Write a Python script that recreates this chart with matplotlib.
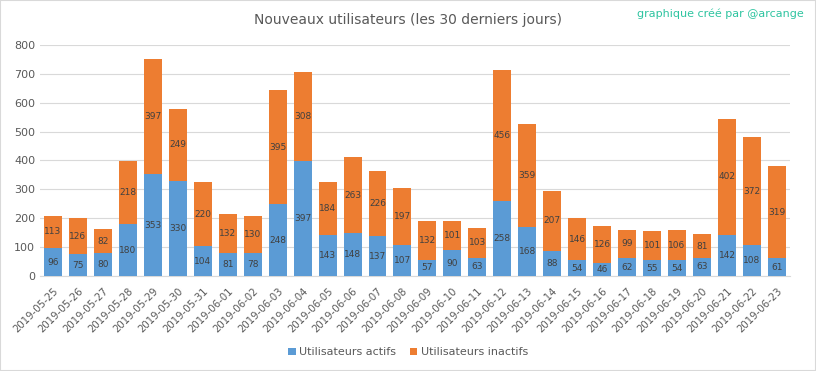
import matplotlib
matplotlib.use("Agg")
import matplotlib.pyplot as plt
import numpy as np

dates = ["2019-05-25", "2019-05-26", "2019-05-27", "2019-05-28", "2019-05-29",
         "2019-05-30", "2019-05-31", "2019-06-01", "2019-06-02", "2019-06-03",
         "2019-06-04", "2019-06-05", "2019-06-06", "2019-06-07", "2019-06-08",
         "2019-06-09", "2019-06-10", "2019-06-11", "2019-06-12", "2019-06-13",
         "2019-06-14", "2019-06-15", "2019-06-16", "2019-06-17", "2019-06-18",
         "2019-06-19", "2019-06-20", "2019-06-21", "2019-06-22", "2019-06-23"]
actifs = [96, 75, 80, 180, 353, 330, 104, 81, 78, 248,
          397, 143, 148, 137, 107, 57, 90, 63, 258, 168,
          88, 54, 46, 62, 55, 54, 63, 142, 108, 61]
inactifs = [113, 126, 82, 218, 397, 249, 220, 132, 130, 395,
            308, 184, 263, 226, 197, 132, 101, 103, 456, 359,
            207, 146, 126, 99, 101, 106, 81, 402, 372, 319]

blue = "#5B9BD5"
orange = "#ED7D31"
grey = "#595959"

fig = plt.figure(figsize=(8.16, 3.71), dpi=100)
ax = fig.add_axes([0.049, 0.256, 0.919, 0.623])

x = np.arange(len(dates))
b1 = ax.bar(x, actifs, width=0.72, color=blue, label="Utilisateurs actifs", zorder=3)
b2 = ax.bar(x, inactifs, width=0.72, bottom=actifs, color=orange,
            label="Utilisateurs inactifs", zorder=3)

for i in range(len(dates)):
    ax.text(x[i], actifs[i] / 2, str(actifs[i]), ha="center", va="center",
            fontsize=6.5, color="#404040", zorder=4)
    ax.text(x[i], actifs[i] + inactifs[i] / 2, str(inactifs[i]), ha="center",
            va="center", fontsize=6.5, color="#404040", zorder=4)

ax.set_xlim(-0.52, len(dates) - 0.48)
ax.set_ylim(0, 800)
ax.set_yticks(range(0, 801, 100))
ax.yaxis.grid(True, color="#d9d9d9", linewidth=0.8, zorder=0)
ax.set_xticks(x)
ax.set_xticklabels(dates, rotation=45, ha="right", rotation_mode="anchor")
ax.tick_params(axis="both", length=0, colors=grey, labelsize=8)
ax.tick_params(axis="x", pad=7, labelsize=7.3)
for s in ["top", "right", "left"]:
    ax.spines[s].set_visible(False)
ax.spines["bottom"].set_color("#d9d9d9")

fig.text(0.5, 0.946, "Nouveaux utilisateurs (les 30 derniers jours)", ha="center",
         va="center", fontsize=10, color=grey)
fig.text(0.985, 0.962, "graphique créé par @arcange", ha="right", va="center",
         fontsize=8, color="#2EC4A0")

fig.legend(handles=[b1, b2], loc="center", bbox_to_anchor=(0.5, 0.05), ncol=2,
           frameon=False, fontsize=8, handlelength=0.7, handleheight=0.7,
           handletextpad=0.3, columnspacing=1.2, labelcolor=grey)

fig.patches.append(plt.Rectangle((0, 0), 1, 1, transform=fig.transFigure,
                                 fill=False, edgecolor="#d9d9d9", linewidth=1.5))

fig.savefig("out.png", dpi=100)
